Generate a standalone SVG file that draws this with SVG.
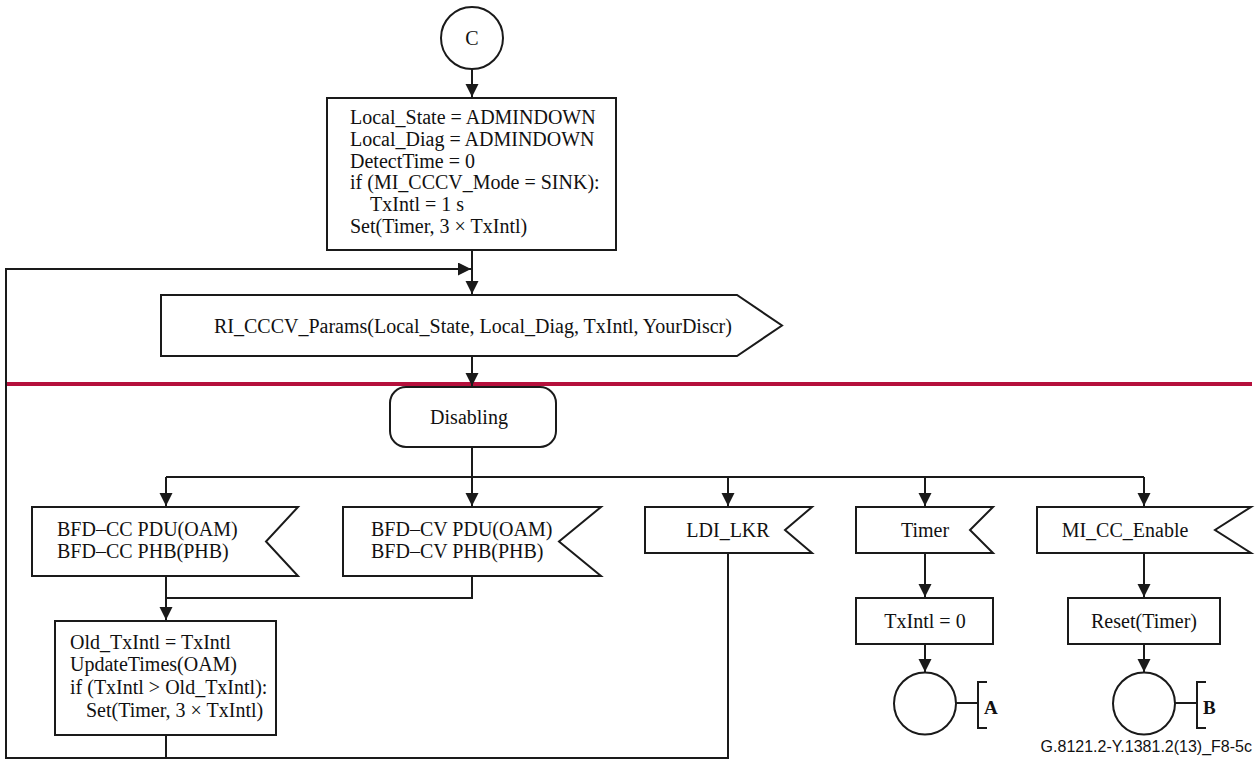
<svg xmlns="http://www.w3.org/2000/svg" width="1257" height="762" viewBox="0 0 1257 762">
<style>
.s{fill:#fff;stroke:#1a1a1a;stroke-width:2}
.c{fill:none;stroke:#1a1a1a;stroke-width:2}
.t{font-family:"Liberation Serif","Times New Roman",serif;font-size:20px;fill:#111}
.m{text-anchor:middle}
.b{font-weight:bold;font-size:19px}
.cap{font-family:"Liberation Sans",Arial,sans-serif;font-size:16px;fill:#111;text-anchor:end}
</style>
<defs>
<marker id="ah" markerUnits="userSpaceOnUse" markerWidth="14" markerHeight="14" refX="13" refY="6.5" orient="auto">
<path d="M0,0 L13,6.5 L0,13 z" fill="#1a1a1a"/>
</marker>
</defs>
<rect width="1257" height="762" fill="#fff"/>
<line id="separator" x1="6" y1="384" x2="1252" y2="384" stroke="#b5103c" stroke-width="4"/>
<g id="connectors" class="c">
<path d="M472,69 V97" marker-end="url(#ah)"/>
<path d="M472,250 V294" marker-end="url(#ah)"/>
<path d="M728,553 V758 H6 V269 H471" marker-end="url(#ah)"/>
<path d="M166,735 V758"/>
<path d="M472,356 V386" marker-end="url(#ah)"/>
<path d="M472,447 V506" marker-end="url(#ah)"/>
<path d="M166,477 H1144"/>
<path d="M166,477 V506" marker-end="url(#ah)"/>
<path d="M728,477 V506" marker-end="url(#ah)"/>
<path d="M925,477 V506" marker-end="url(#ah)"/>
<path d="M1144,477 V506" marker-end="url(#ah)"/>
<path d="M166,576 V620" marker-end="url(#ah)"/>
<path d="M472,576 V598 H166"/>
<path d="M925,553 V597" marker-end="url(#ah)"/>
<path d="M925,644 V672" marker-end="url(#ah)"/>
<path d="M1144,553 V597" marker-end="url(#ah)"/>
<path d="M1144,644 V672" marker-end="url(#ah)"/>
<path d="M956,703 H978"/>
<path d="M987,682 H978 V728 H987"/>
<path d="M1175,703 H1197"/>
<path d="M1206,682 H1197 V728 H1206"/>
</g>
<g id="nodeC">
<circle class="s" cx="472" cy="38" r="31"/>
<text class="t m" x="472" y="45">C</text>
</g>
<g id="init">
<rect class="s" x="327" y="98" width="289" height="152"/>
<text class="t" x="350" y="124">Local_State = ADMINDOWN</text>
<text class="t" x="350" y="145.8">Local_Diag = ADMINDOWN</text>
<text class="t" x="350" y="167.6">DetectTime = 0</text>
<text class="t" x="350" y="189.4">if (MI_CCCV_Mode = SINK):</text>
<text class="t" x="370" y="211.2">TxIntl = 1 s</text>
<text class="t" x="350" y="233">Set(Timer, 3 × TxIntl)</text>
</g>
<g id="riParams">
<path class="s" d="M161,295 H737 L782,325.5 L737,356 H161 Z"/>
<text class="t" x="214" y="332.5">RI_CCCV_Params(Local_State, Local_Diag, TxIntl, YourDiscr)</text>
</g>
<g id="disabling">
<rect class="s" x="390" y="387" width="166" height="60" rx="16" ry="16"/>
<text class="t m" x="469" y="423.5">Disabling</text>
</g>
<g id="bfdCC">
<path class="s" d="M32,507 H298 L266,541.5 L298,576 H32 Z"/>
<text class="t" x="57" y="535.5">BFD–CC PDU(OAM)</text>
<text class="t" x="57" y="557.5">BFD–CC PHB(PHB)</text>
</g>
<g id="bfdCV">
<path class="s" d="M343,507 H601 L559,541.5 L601,576 H343 Z"/>
<text class="t" x="371" y="535.5">BFD–CV PDU(OAM)</text>
<text class="t" x="371" y="557.5">BFD–CV PHB(PHB)</text>
</g>
<g id="ldiLkr">
<path class="s" d="M645,507 H812 L785,530 L812,553 H645 Z"/>
<text class="t m" x="728" y="536.5">LDI_LKR</text>
</g>
<g id="timer">
<path class="s" d="M856,507 H993 L970,530 L993,553 H856 Z"/>
<text class="t m" x="925" y="536.5">Timer</text>
</g>
<g id="miCcEnable">
<path class="s" d="M1037,507 H1251 L1215,530 L1251,553 H1037 Z"/>
<text class="t m" x="1125" y="536.5">MI_CC_Enable</text>
</g>
<g id="updateTimes">
<rect class="s" x="55" y="621" width="221" height="114"/>
<text class="t" x="70" y="648.5">Old_TxIntl = TxIntl</text>
<text class="t" x="70" y="671">UpdateTimes(OAM)</text>
<text class="t" x="70" y="693.5">if (TxIntl &gt; Old_TxIntl):</text>
<text class="t" x="86" y="717">Set(Timer, 3 × TxIntl)</text>
</g>
<g id="txIntlZero">
<rect class="s" x="856" y="598" width="137" height="46"/>
<text class="t m" x="925" y="628">TxIntl = 0</text>
</g>
<g id="resetTimer">
<rect class="s" x="1068" y="598" width="152" height="46"/>
<text class="t m" x="1144" y="628">Reset(Timer)</text>
</g>
<g id="connA">
<circle class="s" cx="925" cy="703.5" r="31"/>
<text class="t b" x="984" y="714">A</text>
</g>
<g id="connB">
<circle class="s" cx="1144" cy="703.5" r="31"/>
<text class="t b" x="1203" y="714">B</text>
</g>
<text class="cap" x="1252" y="752">G.8121.2-Y.1381.2(13)_F8-5c</text>
</svg>
